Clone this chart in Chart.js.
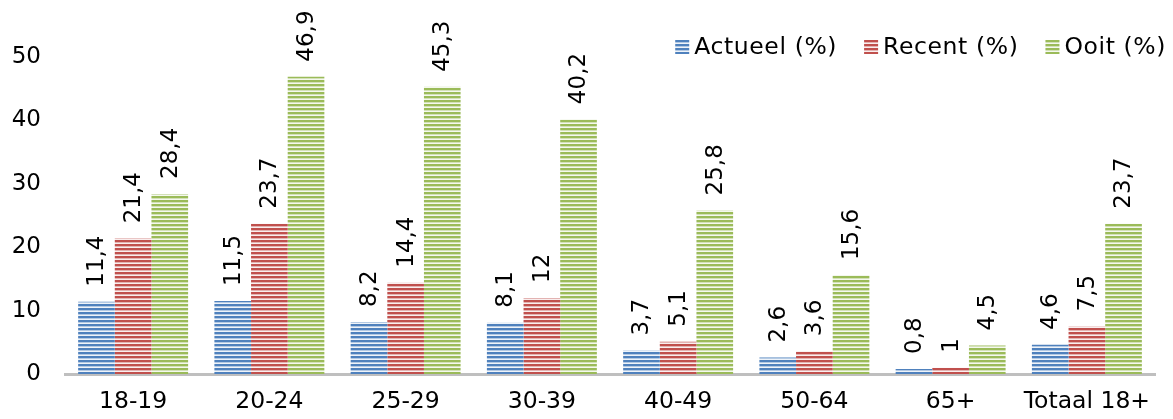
<!DOCTYPE html>
<html>
<head>
<meta charset="utf-8">
<script src="https://cdn.jsdelivr.net/npm/chart.js@4/dist/chart.umd.min.js"></script>
<style>
  html, body { margin: 0; padding: 0; background: #fff; }
  #wrap { width: 1173px; height: 419px; }
</style>
</head>
<body>
<div id="wrap"><canvas id="chart"></canvas></div>
<script>
'use strict';
const categories = ['18-19', '20-24', '25-29', '30-39', '40-49', '50-64', '65+', 'Totaal 18+'];
const actueel = [11.4, 11.5, 8.2, 8.1, 3.7, 2.6, 0.8, 4.6];
const recent = [21.4, 23.7, 14.4, 12, 5.1, 3.6, 1, 7.5];
const ooit = [28.4, 46.9, 45.3, 40.2, 25.8, 15.6, 4.5, 23.7];
const yTicks = [0, 10, 20, 30, 40, 50];

const FONT = 'Verdana, "DejaVu Sans", sans-serif';

// horizontale strepen zoals in het origineel
function stripes(dark, mid, light) {
  const c = document.createElement('canvas');
  c.width = 4; c.height = 4;
  const g = c.getContext('2d');
  g.fillStyle = dark; g.fillRect(0, 0, 4, 2);
  g.fillStyle = mid; g.fillRect(0, 2, 4, 1);
  g.fillStyle = light; g.fillRect(0, 3, 4, 1);
  return g.createPattern(c, 'repeat');
}

const fmt = v => String(v).replace('.', ',');

const valueLabels = {
  id: 'valueLabels',
  afterDatasetsDraw(chart) {
    const ctx = chart.ctx;
    ctx.save();
    ctx.font = '23px ' + FONT;
    ctx.fillStyle = '#000';
    ctx.textAlign = 'left';
    ctx.textBaseline = 'middle';
    chart.data.datasets.forEach((ds, i) => {
      chart.getDatasetMeta(i).data.forEach((bar, j) => {
        ctx.save();
        ctx.translate(bar.x + 1, bar.y - 15);
        ctx.rotate(-Math.PI / 2);
        ctx.fillText(fmt(ds.data[j]), 0, 0);
        ctx.restore();
      });
    });
    ctx.restore();
  }
};

const legendBoxes = {
  id: 'legendBoxes',
  afterDraw(chart) {
    const ctx = chart.ctx;
    ctx.save();
    ctx.font = '23.5px ' + FONT;
    ctx.letterSpacing = '0.6px';
    ctx.textBaseline = 'middle';
    ctx.textAlign = 'left';
    const items = chart.data.datasets.map(ds => ({ text: ds.label, color: ds.backgroundColor }));
    const box = 14, gapText = 5, gapItem = 27, y = 47;
    let total = 0;
    items.forEach((it, i) => {
      it.w = box + gapText + ctx.measureText(it.text).width;
      total += it.w + (i ? gapItem : 0);
    });
    let x = 1166 - total;
    items.forEach(it => {
      ctx.fillStyle = it.color;
      ctx.fillRect(x, y - 7, box, box);
      ctx.fillStyle = '#000';
      ctx.fillText(it.text, x + box + gapText, y + 1);
      x += it.w + gapItem;
    });
    ctx.restore();
  }
};

const ctx = document.getElementById('chart').getContext('2d');
new Chart(ctx, {
  type: 'bar',
  data: {
    labels: categories,
    datasets: [
      { label: 'Actueel (%)', data: actueel, backgroundColor: stripes('#4f81bd', '#b3c9e3', '#eef3f9') },
      { label: 'Recent (%)', data: recent, backgroundColor: stripes('#c0504d', '#e3b3b2', '#f9eeee') },
      { label: 'Ooit (%)', data: ooit, backgroundColor: stripes('#9bbb59', '#d3e1b7', '#f4f8ee') }
    ]
  },
  options: {
    responsive: true,
    maintainAspectRatio: false,
    animation: false,
    categoryPercentage: 0.807,
    barPercentage: 1,
    layout: { padding: { top: 57, right: 18, left: 0, bottom: 0 } },
    plugins: {
      legend: { display: false },
      tooltip: { enabled: false }
    },
    scales: {
      x: {
        grid: { display: false, drawTicks: false },
        border: { display: true, color: '#bfbfbf', width: 3 },
        ticks: { color: '#000', font: { family: FONT, size: 23.5 }, padding: 14, maxRotation: 0 },
        afterFit: s => { s.height = 45; }
      },
      y: {
        min: 0,
        max: 50,
        grid: { display: false, drawTicks: false },
        border: { display: false },
        afterBuildTicks: s => { s.ticks = yTicks.map(v => ({ value: v })); },
        ticks: { color: '#000', font: { family: FONT, size: 23 }, padding: 24 },
        afterFit: s => { s.width = 65; }
      }
    }
  },
  plugins: [valueLabels, legendBoxes]
});
</script>
</body>
</html>
